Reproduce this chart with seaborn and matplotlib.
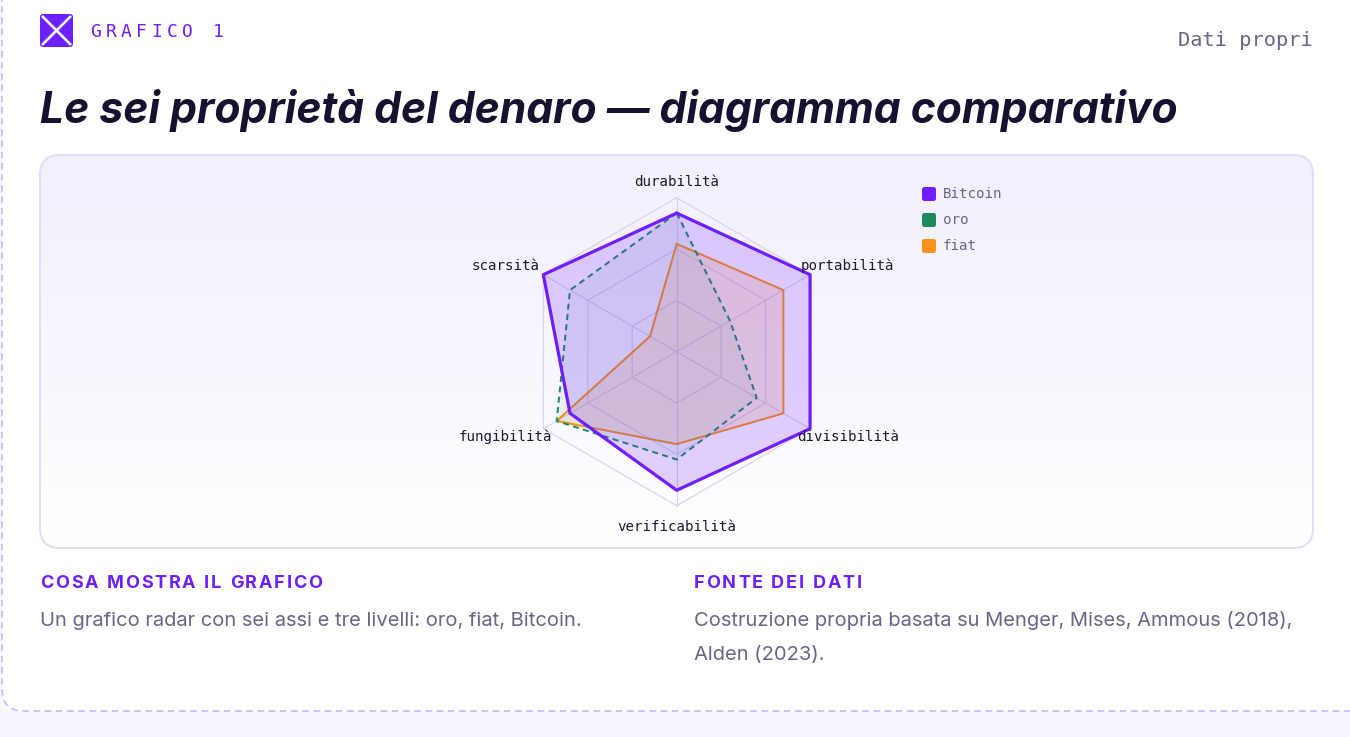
import numpy as np
import pandas as pd
import matplotlib
matplotlib.use("Agg")
import matplotlib.pyplot as plt
import seaborn as sns
from matplotlib.patches import FancyBboxPatch
from matplotlib.colors import LinearSegmentedColormap

# ---------------- data ----------------
categories = ["durabilità", "portabilità", "divisibilità", "verificabilità", "fungibilità", "scarsità"]
bitcoin = [9, 10, 10, 9, 8, 10]
oro = [9, 4, 6, 7, 9, 8]
fiat = [7, 8, 8, 6, 9, 2]
series_names = ["Bitcoin", "oro", "fiat"]
grid_levels = [10 / 3, 20 / 3, 10]
r_max = 10

# ---------------- style ----------------
sns.set_theme(style="white")
plt.rcParams["font.family"] = ["DejaVu Sans"]

W, H = 1350, 737
PT = 0.72  # px -> pt at dpi 100
fig = plt.figure(figsize=(W / 100, H / 100), dpi=100, facecolor="#f8f5fe")
renderer = fig.canvas.get_renderer()

bg = fig.add_axes([0, 0, 1, 1])
bg.set_axis_off()
bg.set_xlim(0, W)
bg.set_ylim(H, 0)

# card
card = FancyBboxPatch((2, -40), W + 60, 751, boxstyle="round,pad=0,rounding_size=22",
                      fc="white", ec="#c4b4fb", lw=1.6 * PT, ls=(0, (4, 3)), zorder=0)
bg.add_patch(card)

# chart panel with vertical gradient
panel = FancyBboxPatch((40, 155), 1273, 393, boxstyle="round,pad=0,rounding_size=20",
                       fc="none", ec="#e2ddf6", lw=2 * PT, zorder=3)
bg.add_patch(panel)
grad_cmap = LinearSegmentedColormap.from_list("g", ["#f3effd", "#f8f6fe", "#ffffff"])
grad = np.linspace(0, 1, 256).reshape(-1, 1)
im = bg.imshow(grad, extent=[40, 1313, 548, 155], cmap=grad_cmap, aspect="auto", zorder=1)
clip = FancyBboxPatch((40, 155), 1273, 393, boxstyle="round,pad=0,rounding_size=20",
                      fc="none", ec="none", transform=bg.transData)
im.set_clip_path(clip)

bg.set_xlim(0, W)
bg.set_ylim(H, 0)


def spaced_text(x, y, s, spacing, **kw):
    """Draw text char by char with extra tracking (pixels)."""
    size_px = kw.get("fontsize", 12) / PT
    for ch in s:
        if ch == " ":
            x += 0.27 * size_px + spacing
            continue
        t = bg.text(x, y, ch, ha="left", va="center", **kw)
        bb = t.get_window_extent(renderer)
        x += bb.width + spacing


# logo
logo = FancyBboxPatch((40, 14), 33, 33, boxstyle="round,pad=0,rounding_size=3",
                      fc="#6c1fff", ec="none", zorder=2)
bg.add_patch(logo)
bg.plot([42, 71], [16, 45], color="white", lw=2.6 * PT, zorder=3, solid_capstyle="butt")
bg.plot([42, 71], [45, 16], color="white", lw=2.6 * PT, zorder=3, solid_capstyle="butt")

# header texts
mono = "DejaVu Sans Mono"
for i, ch in enumerate("GRAFICO 1"):
    bg.text(90 + i * 15.4, 32, ch, fontfamily=mono, fontsize=13, color="#6c1fff",
            ha="left", va="center", zorder=4)
bg.text(1313, 40, "Dati propri", fontfamily=mono, fontsize=14.6, color="#6a6585",
        ha="right", va="center", zorder=4)
bg.text(40, 123, "Le sei proprietà del denaro — diagramma comparativo",
        fontfamily=["Inter", "DejaVu Sans"], fontweight="bold", fontstyle="italic",
        fontsize=30.7, color="#16112e", ha="left", va="baseline", zorder=4)

# bottom texts
sans = ["Inter", "DejaVu Sans"]
spaced_text(40, 584, "COSA MOSTRA IL GRAFICO", 1.8, fontfamily=sans, fontweight="bold",
            fontsize=13, color="#6c1fff", zorder=4)
bg.text(40, 621, "Un grafico radar con sei assi e tre livelli: oro, fiat, Bitcoin.",
        fontfamily=sans, fontsize=14.5, color="#6a6585", ha="left", va="center", zorder=4)
spaced_text(694, 584, "FONTE DEI DATI", 1.8, fontfamily=sans, fontweight="bold",
            fontsize=13, color="#6c1fff", zorder=4)
bg.text(694, 621, "Costruzione propria basata su Menger, Mises, Ammous (2018),",
        fontfamily=sans, fontsize=14.5, color="#6a6585", ha="left", va="center", zorder=4)
bg.text(694, 655, "Alden (2023).",
        fontfamily=sans, fontsize=14.5, color="#6a6585", ha="left", va="center", zorder=4)

# legend
colors = {"Bitcoin": "#6f1fff", "oro": "#1f8a5f", "fiat": "#f7931a"}
for i, name in enumerate(series_names):
    y = 194 + i * 26
    bg.add_patch(FancyBboxPatch((922, y - 7), 14, 14, boxstyle="round,pad=0,rounding_size=2.5",
                                fc=colors[name], ec="none", zorder=4))
    bg.text(943, y, name, fontfamily=mono, fontsize=10.2, color="#6a6585", ha="left", va="center", zorder=4)

# ---------------- radar ----------------
cx, cy, R = 676.7, 351.7, 154
ax = fig.add_axes([(cx - R) / W, (H - cy - R) / H, 2 * R / W, 2 * R / H], projection="polar")
ax.set_theta_zero_location("N")
ax.set_theta_direction(-1)
ax.set_facecolor("none")
ax.set_axis_off()

n = len(categories)
theta = np.arange(n) * 2 * np.pi / n
theta_c = np.r_[theta, 2 * np.pi]

grid_col = "#d8d2f1"
for lvl in grid_levels:
    ax.plot(theta_c, [lvl] * (n + 1), color=grid_col, lw=1.2 * PT, zorder=1, clip_on=False)
for t in theta:
    ax.plot([t, t], [0, r_max], color=grid_col, lw=1.2 * PT, zorder=1, clip_on=False)

styles = {
    "fiat": dict(values=fiat, lw=2.0 * PT, ls="-", alpha=0.16, z=2),
    "oro": dict(values=oro, lw=2.0 * PT, ls=(0, (3, 2.2)), alpha=0.07, z=3),
    "Bitcoin": dict(values=bitcoin, lw=3.2 * PT, ls="-", alpha=0.2, z=4),
}
for name in ["fiat", "oro", "Bitcoin"]:
    st = styles[name]
    vals = np.r_[st["values"], st["values"][0]]
    d = pd.DataFrame({"theta": theta_c, "r": vals})
    ax.fill(theta_c, vals, color=colors[name], alpha=st["alpha"], lw=0, zorder=st["z"])
    sns.lineplot(data=d, x="theta", y="r", sort=False, estimator=None, ax=ax, color=colors[name],
                 lw=st["lw"], ls=st["ls"], legend=False, clip_on=False, zorder=st["z"] + 0.5)
ax.set_ylim(0, r_max)

# axis labels
label_off = {
    "durabilità": (11.0, 0),
    "portabilità": (11.1, 23),
    "divisibilità": (11.1, 23),
    "verificabilità": (11.4, 0),
    "fungibilità": (11.1, -23),
    "scarsità": (11.1, -23),
}
for t, lab in zip(theta, categories):
    r_lab, dx = label_off[lab]
    ax.annotate(lab, xy=(t, r_lab), xytext=(dx, 0), textcoords="offset pixels",
                ha="center", va="center", fontfamily=mono, fontsize=10.2, color="#1c1830",
                annotation_clip=False, zorder=6)

fig.savefig("out.png", dpi=100, facecolor=fig.get_facecolor())
